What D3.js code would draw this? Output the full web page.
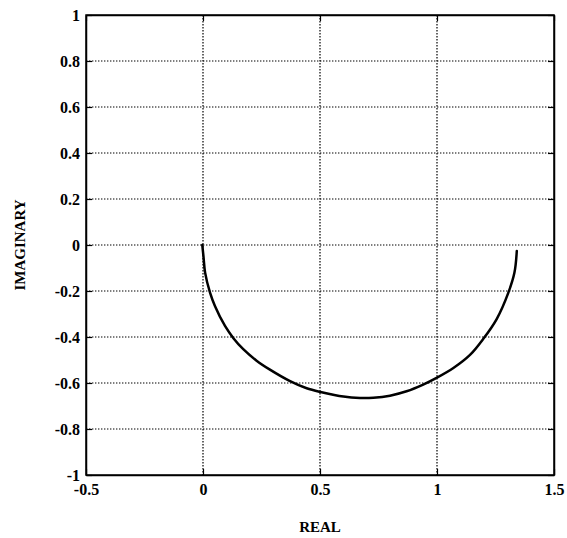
<!DOCTYPE html>
<html>
<head>
<meta charset="utf-8">
<script src="https://cdn.jsdelivr.net/npm/d3@7"></script>
<style>
  html, body { margin: 0; padding: 0; background: #fff; }
  svg { display: block; }
  .tick text { font-family: "Liberation Serif", "Times New Roman", serif; font-weight: bold; font-size: 16px; fill: #000; }
  .lbl { font-family: "Liberation Serif", "Times New Roman", serif; font-weight: bold; font-size: 15px; fill: #000; }
</style>
</head>
<body>
<svg id="chart" width="567" height="538"></svg>
<script>
// Nyquist-style locus: real and imaginary parts of the response
const realPart = [-0.003, 0.002, 0.009, 0.03, 0.051, 0.094, 0.13, 0.172, 0.229, 0.286, 0.372,
                  0.443, 0.507, 0.6, 0.671, 0.728, 0.799, 0.87, 0.941, 0.998, 1.07, 1.141,
                  1.198, 1.255, 1.305, 1.331, 1.341];
const imagPart = [0.0, -0.05, -0.12, -0.207, -0.265, -0.352, -0.405, -0.453, -0.503, -0.542, -0.592,
                  -0.623, -0.64, -0.659, -0.665, -0.664, -0.655, -0.636, -0.607, -0.578, -0.535, -0.478,
                  -0.408, -0.322, -0.207, -0.12, -0.026];

const xTicks = [-0.5, 0, 0.5, 1, 1.5];
const yTicks = [-1, -0.8, -0.6, -0.4, -0.2, 0, 0.2, 0.4, 0.6, 0.8, 1];

const plotL = 86, plotR = 554, plotT = 15, plotB = 475;

const svg = d3.select("#chart");
const x = d3.scaleLinear().domain([-0.5, 1.5]).range([plotL, plotR]);
const y = d3.scaleLinear().domain([-1, 1]).range([plotB, plotT]);

const fmt = d => String(d);

// dotted grid
const grid = svg.append("g").attr("stroke", "#000").attr("stroke-width", 1.2)
  .attr("stroke-dasharray", "1.4,1.6").attr("fill", "none");
grid.selectAll("line.vx").data(xTicks.slice(1, -1)).join("line")
  .attr("x1", d => x(d)).attr("x2", d => x(d)).attr("y1", plotT).attr("y2", plotB);
grid.selectAll("line.hy").data(yTicks.slice(1, -1)).join("line")
  .attr("y1", d => y(d)).attr("y2", d => y(d)).attr("x1", plotL).attr("x2", plotR);

// axes with inward ticks
const xAxis = svg.append("g").attr("transform", `translate(0,${plotB})`)
  .call(d3.axisBottom(x).tickValues(xTicks).tickFormat(fmt).tickSizeInner(-6).tickSizeOuter(0).tickPadding(9));
const yAxis = svg.append("g").attr("transform", `translate(${plotL},0)`)
  .call(d3.axisLeft(y).tickValues(yTicks).tickFormat(fmt).tickSizeInner(-6).tickSizeOuter(0).tickPadding(6));
svg.append("g").attr("transform", `translate(0,${plotT})`)
  .call(d3.axisTop(x).tickValues(xTicks).tickFormat("").tickSizeInner(-6).tickSizeOuter(0));
svg.append("g").attr("transform", `translate(${plotR},0)`)
  .call(d3.axisRight(y).tickValues(yTicks).tickFormat("").tickSizeInner(-6).tickSizeOuter(0));

svg.selectAll(".domain").attr("stroke", "#000").attr("stroke-width", 1.5);
svg.selectAll(".tick line").attr("stroke", "#000").attr("stroke-width", 1.2);
yAxis.selectAll(".tick text").attr("dy", "0.35em");

// frame
svg.append("rect").attr("x", plotL).attr("y", plotT).attr("width", plotR - plotL).attr("height", plotB - plotT)
  .attr("fill", "none").attr("stroke", "#000").attr("stroke-width", 1.5);

// locus curve
const pts = realPart.map((r, i) => [r, imagPart[i]]);
svg.append("path").datum(pts)
  .attr("fill", "none").attr("stroke", "#000").attr("stroke-width", 2.5)
  .attr("stroke-linejoin", "round").attr("stroke-linecap", "round")
  .attr("d", d3.line().x(d => x(d[0])).y(d => y(d[1])).curve(d3.curveCatmullRom));

// axis titles
svg.append("text").attr("class", "lbl").attr("x", (plotL + plotR) / 2).attr("y", 532)
  .attr("text-anchor", "middle").text("REAL");
svg.append("text").attr("class", "lbl").attr("transform", `translate(25,${(plotT + plotB) / 2}) rotate(-90)`)
  .attr("text-anchor", "middle").text("IMAGINARY");
</script>
</body>
</html>
